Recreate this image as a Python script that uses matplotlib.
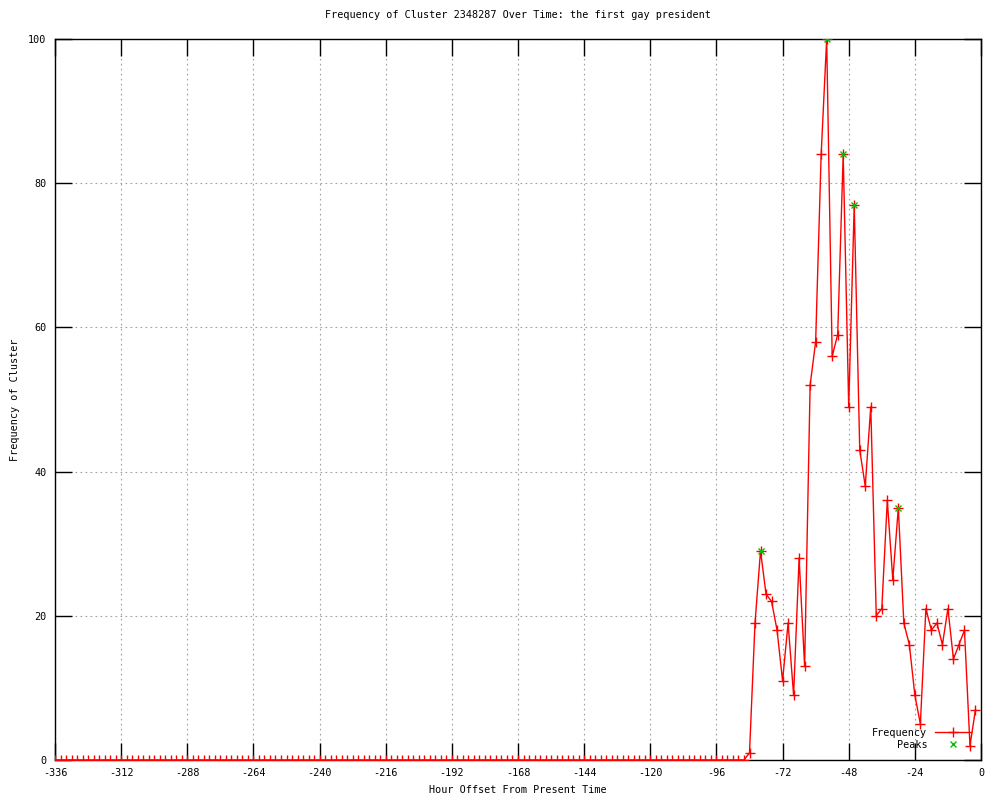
import numpy as np
import matplotlib.pyplot as plt
from matplotlib.lines import Line2D

# hours -336 .. -2, every 2 hours
hours = list(range(-336, 0, 2))
# non-zero tail starting at -84
tail = [1, 19, 29, 23, 22, 18, 11, 19, 9, 28, 13, 52, 58, 84, 100, 56, 59, 84,
        49, 77, 43, 38, 49, 20, 21, 36, 25, 35, 19, 16, 9, 5, 21, 18, 19, 16,
        21, 14, 16, 18, 2, 7]
freq = [0] * (len(hours) - len(tail)) + tail

peak_hours = [-80, -56, -50, -46, -30]
peak_vals = [29, 100, 84, 77, 35]

plt.rcParams['font.family'] = ['DejaVu Sans Mono']
plt.rcParams['font.size'] = 7.3
plt.rcParams['axes.unicode_minus'] = False

fig = plt.figure(figsize=(10, 8), dpi=100)
ax = fig.add_axes([0.055, 0.05, 0.926, 0.90125])

ax.plot(hours, freq, color='red', lw=1, marker='+', ms=7, mew=1,
        label='Frequency', zorder=3)
ax.plot(peak_hours, peak_vals, color='#00c000', ls='none', marker='x',
        ms=5, mew=1, label='Peaks', zorder=4)

ax.set_xlim(-336, 0)
ax.set_ylim(0, 100)
ax.set_xticks(range(-336, 1, 24))
ax.set_yticks(range(0, 101, 20))
ax.grid(True, color='#a0a0a0', ls=(0, (1.5, 3)), lw=0.8)
ax.tick_params(direction='in', length=12, width=1, top=True, right=True,
               labelsize=7.3, pad=6)
for s in ax.spines.values():
    s.set_linewidth(1)

ax.set_title('Frequency of Cluster 2348287 Over Time: the first gay president',
             fontsize=7.3, pad=15)
ax.set_xlabel('Hour Offset From Present Time', fontsize=7.3, labelpad=5)
ax.set_ylabel('Frequency of Cluster', fontsize=7.3, labelpad=6)

handles = [Line2D([], [], color='red', lw=1, marker='+', ms=7),
           Line2D([], [], color='#00c000', ls='none', marker='x', ms=5)]
ax.legend(handles, ['Frequency', 'Peaks'], loc='lower right', frameon=False,
          markerfirst=False, fontsize=7.3, handlelength=3.5,
          labelspacing=0.2, borderaxespad=0.6)

fig.savefig('out.png', dpi=100)
